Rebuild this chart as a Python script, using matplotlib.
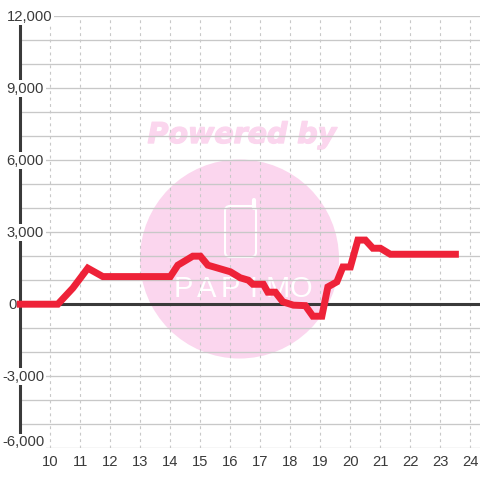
import matplotlib
matplotlib.use('Agg')
import matplotlib.pyplot as plt
import matplotlib.patheffects as pe
from matplotlib.patches import Circle, FancyBboxPatch
from matplotlib.transforms import ScaledTranslation

# data
hours = [9, 10.25, 10.75, 11.25, 11.75, 14, 14.25, 14.75, 15, 15.25, 16, 16.33, 16.6, 16.75,
         17.1, 17.25, 17.5, 17.75, 18.1, 18.5, 18.75, 19.05, 19.25, 19.55, 19.75, 20, 20.25,
         20.5, 20.75, 21, 21.33, 23.5]
values = [0, 0, 670, 1500, 1150, 1150, 1625, 2000, 2000, 1625, 1350, 1100, 1000, 830,
          830, 500, 500, 100, -40, -60, -500, -500, 720, 930, 1550, 1550, 2670,
          2670, 2330, 2330, 2080, 2080]
x_ticks = list(range(10, 25))
y_grid = list(range(-6000, 13000, 1000))
y_labels = [12000, 9000, 6000, 3000, 0, -3000, -6000]
logo_letters = ['P', 'A', 'P', 'I', 'M', 'O']

plt.rcParams['font.family'] = ['Liberation Sans', 'DejaVu Sans']
text_col = '#3a3a3a'
grid_col = '#c8c8c8'
pink = '#fbd6ee'

fig = plt.figure(figsize=(4.8, 4.8), dpi=100, facecolor='white')

# watermark layer, in pixel coordinates
bg = fig.add_axes([0, 0, 1, 1], zorder=0)
bg.set_xlim(0, 480)
bg.set_ylim(480, 0)
bg.axis('off')
bg.add_patch(Circle((239.5, 259), 99.5, color=pink, lw=0))
bg.text(242, 135, 'Powered by', family='DejaVu Sans', weight='bold', style='italic', fontsize=20.5,
        color=pink, ha='center', va='center',
        path_effects=[pe.withStroke(linewidth=1, foreground=pink)])
bg.add_patch(FancyBboxPatch((225, 206), 31, 51, boxstyle='round,pad=0,rounding_size=5',
                            fc='none', ec='white', lw=1.5))
bg.plot([254, 254], [208, 200], color='white', lw=3, solid_capstyle='round')
for i, letter in enumerate(logo_letters):
    bg.text(183 + i * 23.6, 289, letter, family='Liberation Sans', fontsize=21,
            color='white', ha='center', va='center')

ax = fig.add_axes([20.3 / 480, 31.7 / 480, 459.7 / 480, 432.3 / 480], zorder=1)
ax.patch.set_alpha(0)
ax.set_xlim(9, 24.32)
ax.set_ylim(-6000, 12000)

ax.set_yticks(y_grid)
ax.set_yticklabels([])
ax.set_xticks(x_ticks)
ax.set_xticklabels([str(h) for h in x_ticks], fontsize=10.6, color=text_col)
for lab in ax.get_xticklabels():
    lab.set_transform(lab.get_transform() + ScaledTranslation(1 / 100, 0, fig.dpi_scale_trans))
ax.tick_params(length=0)
ax.tick_params(axis='x', pad=5)
ax.grid(axis='y', color=grid_col, lw=0.95)
ax.grid(axis='x', color=grid_col, lw=0.8, ls=(0, (2.6, 3.2)))
ax.set_axisbelow(True)

for s in ['top', 'right', 'bottom']:
    ax.spines[s].set_visible(False)
ax.spines['left'].set_linewidth(2.2)
ax.spines['left'].set_color(text_col)
ax.spines['left'].set_zorder(2)

ax.axhline(0, color=text_col, lw=2.2, zorder=2.5)
ax.plot(hours, values, color='#ee2238', lw=5, solid_joinstyle='miter', solid_capstyle='projecting',
        zorder=4, clip_on=False)

for v in y_labels:
    if v == 0:
        px = -12.3
    elif v < 0:
        px = -18.3
    else:
        px = -13.6
    dy = 6.6 if v == -6000 else 0
    ax.annotate(f'{v:,}', xy=(0, v), xycoords=('axes fraction', 'data'), xytext=(px * 0.72, dy * 0.72 - 0.4),
                textcoords='offset points', ha='left', va='center', fontsize=10.6, color=text_col,
                annotation_clip=False, zorder=3,
                bbox=dict(fc='white', ec='none', pad=1.2))

fig.savefig('out.png', dpi=100)
